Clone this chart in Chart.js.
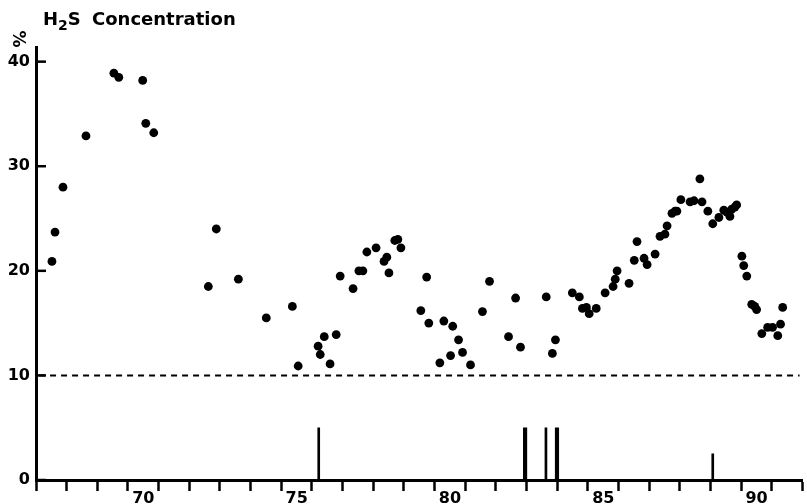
<!DOCTYPE html>
<html>
<head>
<meta charset="utf-8">
<script src="https://cdn.jsdelivr.net/npm/chart.js@4/dist/chart.umd.min.js"></script>
<style>
  html, body { margin: 0; padding: 0; background: #fff; }
</style>
</head>
<body>
<canvas id="h2sChart" width="807" height="504"></canvas>
<script>
// H2S concentration (%) by year (decimal, 67 = 1967)
const years = [
  67.52, 67.62, 67.88, 68.63, 69.54, 69.70, 70.48, 70.58, 70.84, 72.62,
  72.88, 73.60, 74.51, 75.36, 75.55, 76.20, 76.27, 76.40, 76.59, 76.79,
  76.92, 77.34, 77.53, 77.66, 77.79, 78.09, 78.35, 78.44, 78.51, 78.70,
  78.80, 78.90, 79.55, 79.74, 79.81, 80.17, 80.30, 80.52, 80.59, 80.78,
  80.91, 81.17, 81.56, 81.79, 82.41, 82.64, 82.80, 83.64, 83.84, 83.94,
  84.49, 84.72, 84.82, 84.95, 85.04, 85.27, 85.56, 85.82, 85.89, 85.95,
  86.34, 86.51, 86.60, 86.83, 86.93, 87.19, 87.35, 87.51, 87.58, 87.74,
  87.84, 87.90, 88.03, 88.33, 88.46, 88.65, 88.72, 88.91, 89.07, 89.27,
  89.43, 89.53, 89.63, 89.69, 89.79, 89.85, 90.02, 90.08, 90.18, 90.34,
  90.44, 90.50, 90.67, 90.86, 91.02, 91.19, 91.28, 91.35
];
const h2s = [
  20.9, 23.7, 28.0, 32.9, 38.9, 38.5, 38.2, 34.1, 33.2, 18.5,
  24.0, 19.2, 15.5, 16.6, 10.9, 12.8, 12.0, 13.7, 11.1, 13.9,
  19.5, 18.3, 20.0, 20.0, 21.8, 22.2, 20.9, 21.3, 19.8, 22.9,
  23.0, 22.2, 16.2, 19.4, 15.0, 11.2, 15.2, 11.9, 14.7, 13.4,
  12.2, 11.0, 16.1, 19.0, 13.7, 17.4, 12.7, 17.5, 12.1, 13.4,
  17.9, 17.5, 16.4, 16.5, 15.9, 16.4, 17.9, 18.5, 19.2, 20.0,
  18.8, 21.0, 22.8, 21.2, 20.6, 21.6, 23.3, 23.5, 24.3, 25.5,
  25.7, 25.7, 26.8, 26.6, 26.7, 28.8, 26.6, 25.7, 24.5, 25.1,
  25.8, 25.6, 25.2, 25.9, 26.1, 26.3, 21.4, 20.5, 19.5, 16.8,
  16.6, 16.3, 14.0, 14.6, 14.6, 13.8, 14.9, 16.5
];

// event markers along the base line
const markerYearsThick = [82.95, 83.99];
const markerHeightsThick = [5, 5];
const markerYearsThin = [76.22, 83.63, 89.07];
const markerHeightsThin = [5, 5, 2.5];

// 10 % reference level
const limitLevel = 10;
const limitYears = [67.1, 91.9];

const xLabels = [70, 75, 80, 85, 90];
const yLabels = [0, 10, 20, 30, 40];

const tickFont = { family: 'DejaVu Sans', size: 16, weight: 'bold' };

function isWhole(v) {
  return Math.abs(v - Math.round(v)) < 1e-6;
}

const decor = {
  id: 'decor',
  afterDraw(chart) {
    const c = chart.ctx;
    const yScale = chart.scales.y;
    const left = chart.chartArea.left;
    c.save();
    c.fillStyle = '#000';
    c.strokeStyle = '#000';

    // inward ticks on the y axis
    c.lineWidth = 2.5;
    yLabels.forEach(v => {
      const py = yScale.getPixelForValue(v);
      c.beginPath();
      c.moveTo(left, py);
      c.lineTo(left + 10, py);
      c.stroke();
    });

    // title with subscript
    c.textBaseline = 'alphabetic';
    c.textAlign = 'left';
    let x = 43;
    c.font = 'bold 18px "DejaVu Sans"';
    c.fillText('H', x, 25);
    x += c.measureText('H').width;
    c.font = 'bold 14px "DejaVu Sans"';
    c.fillText('2', x, 30);
    x += c.measureText('2').width;
    c.font = 'bold 18px "DejaVu Sans"';
    c.fillText('S', x, 25);
    x += c.measureText('S ').width + 5;
    c.fillText('Concentration', x, 25);

    // unit sign above the axis
    c.translate(17, 39);
    c.rotate(Math.PI / 2);
    c.font = 'bold 17px "DejaVu Sans"';
    c.textAlign = 'center';
    c.textBaseline = 'middle';
    c.fillText('%', 0, 0);
    c.restore();
  }
};

new Chart(document.getElementById('h2sChart'), {
  type: 'scatter',
  data: {
    datasets: [
      {
        type: 'scatter',
        data: years.map((x, i) => ({ x, y: h2s[i] })),
        pointRadius: 4.4,
        pointBackgroundColor: '#000',
        pointBorderWidth: 0,
        order: 0
      },
      {
        type: 'line',
        data: limitYears.map(x => ({ x, y: limitLevel })),
        borderColor: '#000',
        borderWidth: 2,
        borderDash: [6, 5],
        pointRadius: 0,
        order: 1
      },
      {
        type: 'bar',
        data: markerYearsThick.map((x, i) => ({ x, y: markerHeightsThick[i] })),
        backgroundColor: '#000',
        barThickness: 3.5,
        grouped: false,
        order: 2
      },
      {
        type: 'bar',
        data: markerYearsThin.map((x, i) => ({ x, y: markerHeightsThin[i] })),
        backgroundColor: '#000',
        barThickness: 2,
        grouped: false,
        order: 2
      }
    ]
  },
  options: {
    responsive: false,
    animation: false,
    layout: { padding: { top: 47, right: 2, left: 0, bottom: 0 } },
    plugins: { legend: { display: false }, tooltip: { enabled: false } },
    scales: {
      x: {
        type: 'linear',
        min: 67,
        max: 92,
        offset: false,
        grid: {
          offset: false,
          drawOnChartArea: false,
          tickLength: 11,
          tickWidth: 2.5,
          tickColor: ctx => isWhole(ctx.tick.value) ? '#000' : 'rgba(0,0,0,0)'
        },
        border: { display: true, color: '#000', width: 3 },
        ticks: {
          stepSize: 0.5,
          autoSkip: false,
          maxRotation: 0,
          padding: -2,
          color: '#000',
          font: tickFont,
          callback: v => {
            const yr = Math.floor(v);
            return (!isWhole(v) && xLabels.includes(yr)) ? String(yr) : '';
          }
        },
        afterFit: s => { s.height = 24; }
      },
      y: {
        min: 0,
        max: 41.4,
        grid: { drawOnChartArea: false, drawTicks: false },
        border: { display: true, color: '#000', width: 3 },
        ticks: {
          autoSkip: false,
          padding: 6,
          color: '#000',
          font: tickFont
        },
        afterBuildTicks: s => { s.ticks = yLabels.map(v => ({ value: v })); },
        afterFit: s => { s.width = 36; }
      }
    }
  },
  plugins: [decor]
});
</script>
</body>
</html>
